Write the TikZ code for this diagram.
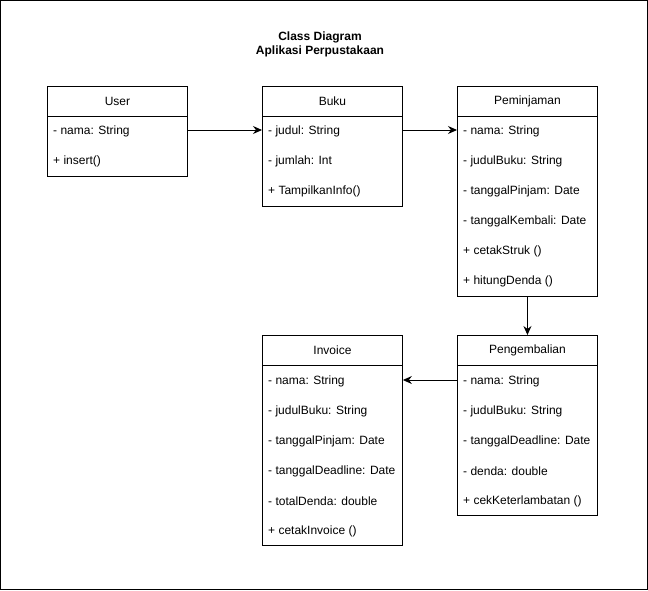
\documentclass[tikz,border=0pt]{standalone}
\usepackage{fontspec}
\setmainfont{Liberation Sans}
\usetikzlibrary{arrows.meta}
\begin{document}
\begin{tikzpicture}[x=1pt,y=-1pt,
  cls/.style={draw, line width=0.9pt, minimum width=140pt, inner sep=0pt, anchor=north west, font=\fontsize{12}{14}\selectfont},
  row/.style={anchor=west, inner sep=0pt, yshift=-1.5pt, font=\fontsize{12}{14}\selectfont},
  arr/.style={line width=0.9pt, -{Stealth[length=9pt,width=8pt,inset=3pt]}}]
\useasboundingbox (0,0) rectangle (648,590);
\draw[line width=0.9pt] (0.5,0.5) rectangle (647,589);
\node[font=\bfseries\fontsize{12}{14}\selectfont, align=center] (title) at (320,44) {Class Diagram\\Aplikasi Perpustakaan};
% User
\node[cls, minimum height=30pt] (userH) at (47,86) {User};
\node[cls, minimum height=60pt] (userB) at (47,116) {};
\node[row] (u1) at (53,130) {- nama: String};
\node[row] (u2) at (53,160) {+ insert()};
% Buku
\node[cls, minimum height=30pt] (bukuH) at (262,86) {Buku};
\node[cls, minimum height=90pt] (bukuB) at (262,116) {};
\node[row] (b1) at (268,130) {- judul: String};
\node[row] (b2) at (268,160) {- jumlah: Int};
\node[row] (b3) at (268,190) {+ TampilkanInfo()};
% Peminjaman
\node[cls, minimum height=30pt] (pemH) at (457,86) {Peminjaman};
\node[cls, minimum height=180pt] (pemB) at (457,116) {};
\node[row] (p1) at (463,130) {- nama: String};
\node[row] (p2) at (463,160) {- judulBuku: String};
\node[row] (p3) at (463,190) {- tanggalPinjam: Date};
\node[row] (p4) at (463,220) {- tanggalKembali: Date};
\node[row] (p5) at (463,250) {+ cetakStruk ()};
\node[row] (p6) at (463,280) {+ hitungDenda ()};
% Pengembalian
\node[cls, minimum height=30pt] (pengH) at (457,335) {Pengembalian};
\node[cls, minimum height=150pt] (pengB) at (457,365) {};
\node[row] (g1) at (463,380) {- nama: String};
\node[row] (g2) at (463,410) {- judulBuku: String};
\node[row] (g3) at (463,440) {- tanggalDeadline: Date};
\node[row] (g4) at (463,470) {- denda: double};
\node[row] (g5) at (463,500) {+ cekKeterlambatan ()};
% Invoice
\node[cls, minimum height=30pt] (invH) at (262,335) {Invoice};
\node[cls, minimum height=180pt] (invB) at (262,365) {};
\node[row] (i1) at (268,380) {- nama: String};
\node[row] (i2) at (268,410) {- judulBuku: String};
\node[row] (i3) at (268,440) {- tanggalPinjam: Date};
\node[row] (i4) at (268,470) {- tanggalDeadline: Date};
\node[row] (i5) at (268,500) {- totalDenda: double};
\node[row] (i6) at (268,530) {+ cetakInvoice ()};
% connectors
\draw[arr] (userB.east |- 0,130) -- (bukuB.west |- 0,130);
\draw[arr] (bukuB.east |- 0,130) -- (pemB.west |- 0,130);
\draw[arr] (pemB.south) -- (pengH.north);
\draw[arr] (pengB.west |- 0,380) -- (invB.east |- 0,380);
\end{tikzpicture}
\end{document}
